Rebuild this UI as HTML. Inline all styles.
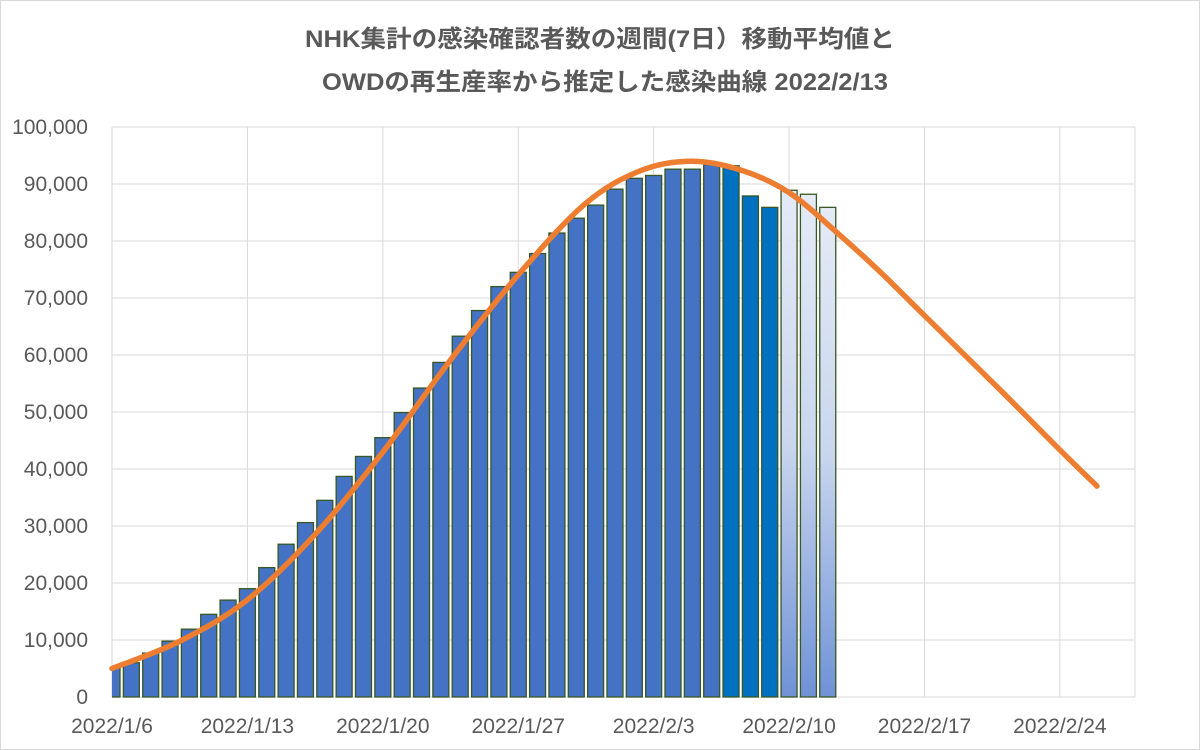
<!DOCTYPE html>
<html><head><meta charset="utf-8"><style>
body{margin:0;background:#fff}
svg{display:block;font-family:"Liberation Sans","Noto Sans CJK JP",sans-serif}
</style></head><body>
<svg width="1200" height="750" viewBox="0 0 1200 750">
<defs><linearGradient id="g" x1="0" y1="0" x2="0" y2="1"><stop offset="0" stop-color="#e4ebf7"/><stop offset="0.5" stop-color="#c9d6ee"/><stop offset="1" stop-color="#6f92d6"/></linearGradient>
<clipPath id="c"><rect x="112" y="100" width="1030" height="598"/></clipPath></defs>
<rect x="0.5" y="0.5" width="1199" height="749" fill="#fff" stroke="#d9d9d9"/>
<text x="305" y="47" textLength="590" lengthAdjust="spacingAndGlyphs" font-size="24" font-weight="bold" fill="#595959">NHK集計の感染確認者数の週間(7日）移動平均値と</text>
<text x="322" y="90" textLength="566" lengthAdjust="spacingAndGlyphs" font-size="24" font-weight="bold" fill="#595959">OWDの再生産率から推定した感染曲線  2022/2/13</text>
<g stroke="#d9d9d9" stroke-width="1" id="grid"></g>
<g id="bars" clip-path="url(#c)"></g>
<g id="labels" font-size="21" fill="#595959"></g>
<path id="curve" fill="none" stroke="#ed7d31" stroke-width="5.5" stroke-linejoin="round" stroke-linecap="round"/>
</svg>
<script>
const ns="http://www.w3.org/2000/svg";
const Y=v=>697-v*0.0057, X=d=>112+d*19.345;
function el(t,a,p,txt){const e=document.createElementNS(ns,t);for(const k in a)e.setAttribute(k,a[k]);if(txt!=null)e.textContent=txt;document.getElementById(p).appendChild(e);return e;}
for(let i=0;i<=10;i++){const y=Y(i*10000);el('line',{x1:112,x2:1135,y1:y,y2:y},'grid');
el('text',{x:88,y:y+7,'text-anchor':'end'},'labels',i==0?'0':(i*10)+',000');}
for(let w=0;w<=7;w++){const x=X(w*7);el('line',{x1:x,x2:x,y1:127,y2:697},'grid');}
el('line',{x1:1135,x2:1135,y1:127,y2:697},'grid');
['2022/1/6','2022/1/13','2022/1/20','2022/1/27','2022/2/3','2022/2/10','2022/2/17','2022/2/24'].forEach((t,w)=>el('text',{x:X(w*7),y:733,'text-anchor':'middle'},'labels',t));
const v=[5200,6000,7700,9800,11900,14500,17000,19000,22700,26800,30600,34500,38700,42200,45500,49900,54200,58700,63300,67800,72000,74500,77800,81400,84000,86300,89100,91000,91500,92600,92600,93400,93200,87900,85900,88900,88200,85900];
v.forEach((val,i)=>{const c=X(i);let f=i<32?'#4472c4':(i<35?'#0070c0':'url(#g)');
el('rect',{x:c-8,y:Y(val),width:16,height:697-Y(val),fill:f,stroke:'#385723','stroke-width':1.3},'bars');});
const pts=[[112,5000],[180,9800],[247,17000],[315,28500],[383,43000],[450,59000],[518,74000],[585,86500],[640,92300],[690,94000],[740,92500],[789,88500],[840,81000],[880,74600],[924,67000],[1000,53900],[1059,43500],[1097,37000]].map(p=>[p[0],Y(p[1])]);
let d='M'+pts[0];
for(let i=0;i<pts.length-1;i++){const p0=pts[Math.max(i-1,0)],p1=pts[i],p2=pts[i+1],p3=pts[Math.min(i+2,pts.length-1)];
d+=` C${p1[0]+(p2[0]-p0[0])/6},${p1[1]+(p2[1]-p0[1])/6} ${p2[0]-(p3[0]-p1[0])/6},${p2[1]-(p3[1]-p1[1])/6} ${p2[0]},${p2[1]}`;}
document.getElementById('curve').setAttribute('d',d);
</script>
</body></html>
